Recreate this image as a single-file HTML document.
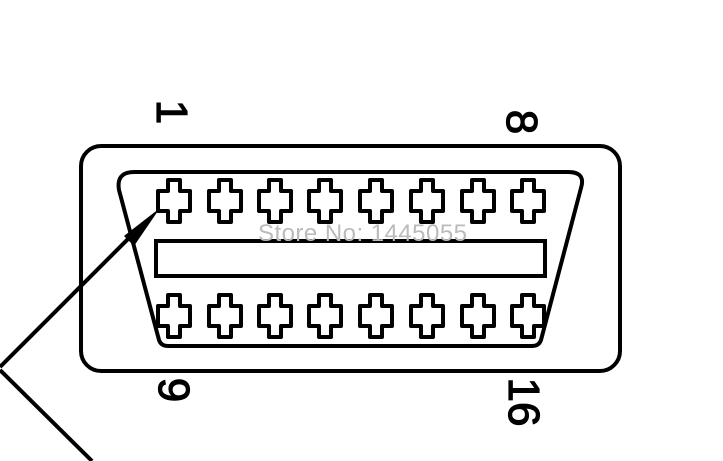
<!DOCTYPE html>
<html><head><style>
html,body{margin:0;padding:0;background:#fff;width:723px;height:461px;overflow:hidden}
</style></head><body>
<svg width="723" height="461" viewBox="0 0 723 461" xmlns="http://www.w3.org/2000/svg">
<defs>
<path id="c" d="M-6,-21 H6 V-10 H16 V10 H6 V21 H-6 V10 H-16 V-10 H-6 Z" fill="none" stroke="#000" stroke-width="4" stroke-linejoin="round"/>
</defs>
<rect x="81" y="146" width="539" height="225" rx="20" fill="none" stroke="#000" stroke-width="4"/>
<path d="M134,172 H568 Q586,172 581,188 L541,340 Q539,346 532,346 H168 Q161,346 159,340 L119,190 Q116,172 134,172 Z" fill="none" stroke="#000" stroke-width="4"/>
<rect x="156" y="241" width="389" height="35" fill="none" stroke="#000" stroke-width="4"/>
<g>
<use href="#c" x="174" y="201"/><use href="#c" x="225" y="201"/><use href="#c" x="275" y="201"/><use href="#c" x="325" y="201"/>
<use href="#c" x="376" y="201"/><use href="#c" x="427" y="201"/><use href="#c" x="478" y="201"/><use href="#c" x="528" y="201"/>
<use href="#c" x="174" y="316"/><use href="#c" x="225" y="316"/><use href="#c" x="275" y="316"/><use href="#c" x="325" y="316"/>
<use href="#c" x="376" y="316"/><use href="#c" x="427" y="316"/><use href="#c" x="478" y="316"/><use href="#c" x="528" y="316"/>
</g>
<line x1="0" y1="367" x2="140" y2="227" stroke="#000" stroke-width="4"/>
<line x1="0" y1="370" x2="92" y2="461" stroke="#000" stroke-width="4"/>
<polygon points="160,208 124,236 134,246" fill="#000"/>
<text x="258" y="241" font-family="Liberation Sans, sans-serif" font-size="24" fill="#bbb" textLength="209">Store No: 1445055</text>
<g font-family="Liberation Sans, sans-serif" font-size="44" fill="#000" stroke="#000" stroke-width="1.2">
<text transform="translate(157,112) rotate(90)" text-anchor="middle">1</text>
<text transform="translate(507,122) rotate(90)" text-anchor="middle">8</text>
<text transform="translate(159,390) rotate(90)" text-anchor="middle">9</text>
<text transform="translate(509,402) rotate(90)" text-anchor="middle">16</text>
</g>
</svg>
</body></html>
